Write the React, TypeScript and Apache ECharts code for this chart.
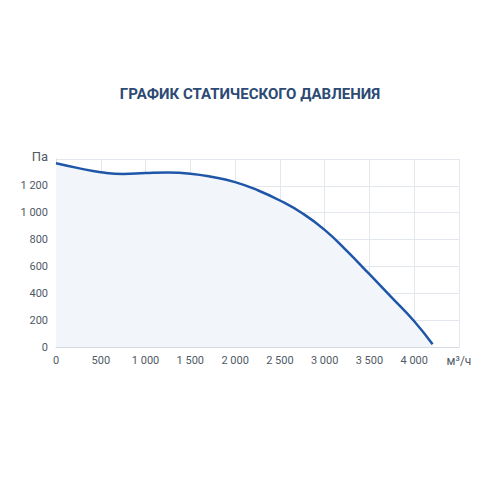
import { useEffect, useRef } from 'react';
import * as echarts from 'echarts';

const TITLE = 'ГРАФИК СТАТИЧЕСКОГО ДАВЛЕНИЯ';
const X_UNIT = 'м³/ч';
const Y_UNIT = 'Па';

// airflow, m³/h
const flow = [0, 250, 500, 750, 1000, 1250, 1500, 1750, 2000, 2250, 2500, 2750, 3000, 3250, 3500, 3750, 4000, 4205];
// static pressure, Pa
const pressure = [1368, 1332, 1302, 1288, 1295, 1299, 1291, 1266, 1228, 1168, 1091, 996, 872, 714, 542, 368, 192, 20];

const X_MAX = 4500;
const Y_MAX = 1400;

const fmt = (v: number) => String(v).replace(/\B(?=(\d{3})+(?!\d))/g, ' ');

export default function App() {
  const chartRef = useRef<HTMLDivElement>(null);

  useEffect(() => {
    if (!chartRef.current) return;
    const chart = echarts.init(chartRef.current, null, { renderer: 'svg' });

    const labelStyle = {
      color: '#4f5a66',
      fontFamily: 'Roboto',
      fontSize: 11,
      margin: 8,
    };

    chart.setOption({
      animation: false,
      backgroundColor: '#ffffff',
      title: {
        text: TITLE,
        left: 'center',
        top: 81,
        textStyle: {
          fontFamily: 'Roboto',
          fontSize: 15,
          fontWeight: 'bold',
          color: '#2c4a73',
        },
      },
      grid: { left: 56, right: 41, top: 159, bottom: 153 },
      xAxis: {
        type: 'value',
        min: 0,
        max: X_MAX,
        interval: 500,
        axisLine: { show: true, lineStyle: { color: '#d5dbe3' } },
        axisTick: { show: false },
        axisLabel: {
          ...labelStyle,
          formatter: (v: number) => (v === X_MAX ? '{u|' + X_UNIT + '}' : fmt(v)),
          rich: { u: { fontSize: 12, color: '#4f5a66', fontFamily: 'Roboto' } },
        },
        splitLine: { show: true, lineStyle: { color: '#e3e7ee' } },
      },
      yAxis: {
        type: 'value',
        min: 0,
        max: Y_MAX,
        interval: 200,
        axisLine: { show: true, lineStyle: { color: '#d5dbe3' } },
        axisTick: { show: false },
        axisLabel: {
          ...labelStyle,
          formatter: (v: number) => (v === Y_MAX ? '{u|' + Y_UNIT + '}' : fmt(v)),
          rich: { u: { fontSize: 13, color: '#4f5a66', fontFamily: 'Roboto', padding: [0, 0, 6, 0] } },
        },
        splitLine: { show: true, lineStyle: { color: '#e3e7ee' } },
      },
      series: [
        {
          type: 'line',
          smooth: 0.5,
          symbol: 'none',
          lineStyle: { width: 2.5, color: '#1f56a8' },
          areaStyle: { color: '#f2f6fb', opacity: 1 },
          data: flow.map((x, i) => [x, pressure[i]]),
        },
      ],
    });

    return () => chart.dispose();
  }, []);

  return (
    <div
      ref={chartRef}
      style={{ position: 'fixed', left: 0, top: 0, width: 500, height: 500 }}
    />
  );
}
